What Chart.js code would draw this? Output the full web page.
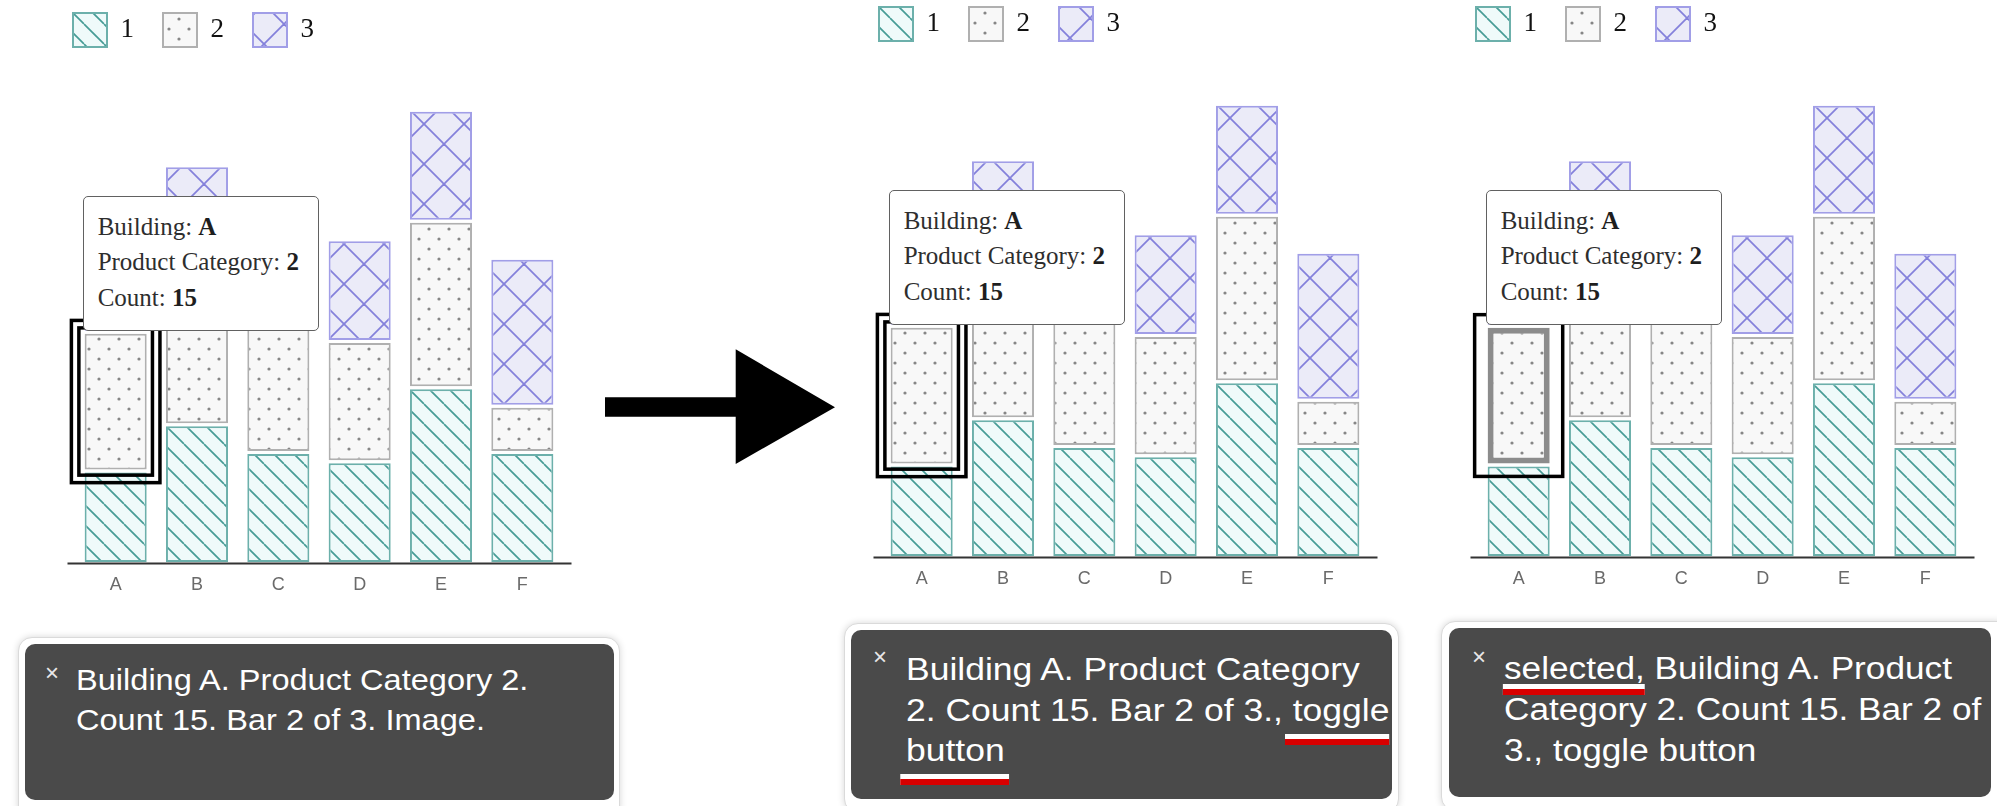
<!DOCTYPE html>
<html lang="en">
<head>
<meta charset="utf-8">
<title>Building / Product Category</title>
<script src="https://cdn.jsdelivr.net/npm/chart.js@4.4.1/dist/chart.umd.min.js"></script>
<style>
  html, body { margin: 0; padding: 0; background: #fff; }
  body { position: relative; width: 1997px; height: 806px; overflow: hidden; font-family: "Liberation Sans", Arial, sans-serif; }
  canvas.grafica { position: absolute; }
  .tip { position: absolute; z-index: 3; box-sizing: border-box; width: 236px; height: 135px; background: #fff;
         border: 1.5px solid #616161; border-radius: 5px; padding: 12px 0 0 14px;
         font-family: "Liberation Serif", serif; font-size: 25px; line-height: 35.5px; color: #2e2e2e; white-space: nowrap; }
  .tip b { color: #1e1e1e; }
  .lector { position: absolute; box-sizing: border-box; background: #fff; border: 1px solid #dadada; border-radius: 14px; box-shadow: 0 0 7px rgba(0,0,0,0.16); }
  .caja { position: absolute; background: #4a4a4a; border-radius: 10px; }
  .cerrar { position: absolute; color: #e8e8e8; font-size: 24px; line-height: 24px; }
  .texto { position: absolute; color: #fff; white-space: nowrap; transform-origin: 0 0; }
  .marca { display: inline-block; position: relative; }
  .marca::after { content: ''; position: absolute; left: var(--i); right: var(--d); top: var(--t); height: 5px; background: #fff; border-bottom: 6px solid #d80000; }
</style>
</head>
<body>

<canvas id="g1" class="grafica" width="534" height="623" style="left:44px;top:-16px"></canvas>
<canvas id="g2" class="grafica" width="534" height="623" style="left:850px;top:-22px"></canvas>
<canvas id="g3" class="grafica" width="534" height="623" style="left:1447px;top:-22px"></canvas>

<div class="tip" id="tip1"></div>
<div class="tip" id="tip2"></div>
<div class="tip" id="tip3"></div>

<!-- flecha entre la primera y la segunda grafica -->
<svg width="1997" height="806" style="position:absolute;left:0;top:0;z-index:1">
  <polygon points="605,397.3 735.7,397.3 735.7,349.3 835,407.3 735.7,464 735.7,416.7 605,416.7" fill="#000"/>
</svg>

<!-- cajas del lector de pantalla -->
<div class="lector" style="left:18px;top:637px;width:602px;height:185px"></div>
<div class="caja" style="left:25px;top:644px;width:589px;height:156px"></div>
<div class="cerrar" style="left:45px;top:661px">×</div>
<div class="texto" style="left:75.5px;top:660.3px;font-size:30px;line-height:39.3px;transform:scaleX(1.085)">Building A. Product Category 2.<br>Count 15. Bar 2 of 3. Image.</div>

<div class="lector" style="left:844px;top:623px;width:555px;height:190px"></div>
<div class="caja" style="left:851px;top:630px;width:541px;height:169px"></div>
<div class="cerrar" style="left:873px;top:645px">×</div>
<div class="texto" style="left:906.4px;top:650px;font-size:31px;line-height:40.6px;transform:scaleX(1.145)">Building A. Product Category<br>2. Count 15. Bar 2 of 3., <span class="marca" style="--t:43.5px;--i:-7px;--d:0px">toggle</span><br><span class="marca" style="--t:42.8px;--i:-5px;--d:-4px">button</span></div>

<div class="lector" style="left:1441px;top:621px;width:570px;height:190px"></div>
<div class="caja" style="left:1449px;top:628px;width:542px;height:169px"></div>
<div class="cerrar" style="left:1472px;top:645px">×</div>
<div class="texto" style="left:1504px;top:648px;font-size:31px;line-height:41px;transform:scaleX(1.135)"><span class="marca" style="--t:36.3px;--i:-1px;--d:0px">selected,</span> Building A. Product<br>Category 2. Count 15. Bar 2 of<br>3., toggle button</div>

<script>
// datos
var edificios = ['A', 'B', 'C', 'D', 'E', 'F'];
var categorias = ['1', '2', '3'];
var cat1 = [10, 15, 12, 11, 19, 12];
var cat2 = [15, 14, 16, 13, 18, 5];
var cat3 = [10, 14, 10, 11, 12, 16];
var ejeMax = 54.75;

var GAP = 1.5; // espacio blanco entre segmentos apilados
var bordes = ['#6cb0ab', '#b0b0b0', '#a19ee7'];

// las barras apiladas van separadas, se encoge cada segmento un poco arriba y abajo
var dibujarBarra = Chart.BarElement.prototype.draw;
Chart.BarElement.prototype.draw = function (ctx) {
    var y = this.y, base = this.base;
    this.y = y + GAP;
    this.base = base - GAP;
    dibujarBarra.call(this, ctx);
    this.y = y;
    this.base = base;
};

// crear patron de relleno
function patron(tam, fondo, dibujo) {
    var c = document.createElement('canvas');
    c.width = tam; c.height = tam;
    var x = c.getContext('2d');
    x.fillStyle = fondo;
    x.fillRect(0, 0, tam, tam);
    dibujo(x, tam);
    return x.createPattern(c, 'repeat');
}

function rayas(x, t, dir) {
    [-t, 0, t].forEach(function (k) {
        x.beginPath();
        if (dir > 0) { x.moveTo(k, 0); x.lineTo(k + t, t); }
        else { x.moveTo(k + t, 0); x.lineTo(k, t); }
        x.stroke();
    });
}

var pat1 = patron(20, '#effafa', function (x, t) {
    x.strokeStyle = '#479c96'; x.lineWidth = 1.7;
    rayas(x, t, 1);
});
var pat2 = patron(20, '#f8f8f8', function (x) {
    x.fillStyle = '#868686';
    [[5, 5], [15, 15]].forEach(function (p) {
        x.beginPath(); x.arc(p[0], p[1], 1.6, 0, Math.PI * 2); x.fill();
    });
});
var pat3 = patron(40, '#ebebf8', function (x, t) {
    x.strokeStyle = '#8480db'; x.lineWidth = 1.8;
    rayas(x, t, 1);
    rayas(x, t, -1);
});

// linea del eje x, un poco mas larga que el area
var ejeX = {
    id: 'ejeX',
    afterDatasetsDraw: function (chart) {
        var a = chart.chartArea, ctx = chart.ctx;
        ctx.save();
        ctx.strokeStyle = '#333';
        ctx.lineWidth = 2;
        ctx.beginPath();
        ctx.moveTo(a.left - 7.5, a.bottom);
        ctx.lineTo(a.right + 8.5, a.bottom);
        ctx.stroke();
        ctx.restore();
    }
};

// recuadros negros de foco alrededor de la barra A / categoria 2
var anillos = {
    id: 'anillos',
    afterDatasetsDraw: function (chart, args, opts) {
        var barra = chart.getDatasetMeta(1).data[0];
        var ctx = chart.ctx;
        var x0 = barra.x - barra.width / 2, x1 = barra.x + barra.width / 2;
        var y0 = barra.y + GAP, y1 = barra.base - GAP;
        ctx.save();
        ctx.strokeStyle = '#000';
        ctx.lineWidth = 3.5;
        (opts.radios || []).forEach(function (r) {
            ctx.strokeRect(x0 - r, y0 - r, x1 - x0 + 2 * r, y1 - y0 + 2 * r);
        });
        ctx.restore();
    }
};

function crearGrafica(id, radios, seleccionado) {
    var lienzo = document.getElementById(id);
    var chartdata = {
        labels: edificios,
        datasets: [
            { label: categorias[0], data: cat1, backgroundColor: pat1, borderColor: bordes[0], borderWidth: 2, borderSkipped: false },
            {
                label: categorias[1], data: cat2, backgroundColor: pat2, borderSkipped: false,
                borderColor: function (c) { return (seleccionado && c.dataIndex === 0) ? '#8c8c8c' : bordes[1]; },
                borderWidth: function (c) { return (seleccionado && c.dataIndex === 0) ? 6 : 2; }
            },
            { label: categorias[2], data: cat3, backgroundColor: pat3, borderColor: bordes[2], borderWidth: 2, borderSkipped: false }
        ]
    };
    return new Chart(lienzo, {
        type: 'bar',
        data: chartdata,
        plugins: [ejeX, anillos],
        options: {
            responsive: false,
            animation: false,
            devicePixelRatio: 1,
            layout: { padding: { left: 0, right: 15, top: 0, bottom: 0 } },
            datasets: { bar: { categoryPercentage: 1, barPercentage: 0.763 } },
            plugins: {
                legend: {
                    position: 'top',
                    align: 'start',
                    labels: {
                        boxWidth: 34, boxHeight: 34, padding: 29, color: '#111',
                        font: { family: '"Liberation Serif", serif', size: 27 },
                        // la leyenda siempre con borde normal aunque la barra A este seleccionada
                        generateLabels: function (chart) {
                            var items = Chart.defaults.plugins.legend.labels.generateLabels(chart);
                            items.forEach(function (it) {
                                it.lineWidth = 2;
                                it.strokeStyle = bordes[it.datasetIndex];
                            });
                            return items;
                        }
                    }
                },
                tooltip: { enabled: false },
                anillos: { radios: radios }
            },
            scales: {
                x: {
                    stacked: true,
                    grid: { display: false, drawTicks: false },
                    border: { display: false },
                    ticks: { color: '#6a6a6a', padding: 11, font: { family: '"Liberation Sans", Arial, sans-serif', size: 18 } }
                },
                y: {
                    stacked: true, min: 0, max: ejeMax,
                    grid: { display: false, drawTicks: false },
                    border: { display: false },
                    ticks: { display: false },
                    afterFit: function (s) { s.width = 31; }
                }
            }
        }
    });
}

// tooltip fijo encima de la barra enfocada
function ponerTip(chart, idTip) {
    var tip = document.getElementById(idTip);
    var barra = chart.getDatasetMeta(1).data[0];
    var izq = parseFloat(chart.canvas.style.left), arr = parseFloat(chart.canvas.style.top);
    tip.innerHTML = 'Building: <b>' + edificios[0] + '</b><br>Product Category: <b>' + categorias[1] +
        '</b><br>Count: <b>' + cat2[0] + '</b>';
    tip.style.left = (izq + barra.x - barra.width / 2 - 2) + 'px';
    tip.style.top = (arr + barra.y + GAP - 3 - 135) + 'px';
}

var g1 = crearGrafica('g1', [5.75, 13.25], false);
var g2 = crearGrafica('g2', [5.75, 13.25], false);
var g3 = crearGrafica('g3', [13], true);
ponerTip(g1, 'tip1');
ponerTip(g2, 'tip2');
ponerTip(g3, 'tip3');
</script>
</body>
</html>
